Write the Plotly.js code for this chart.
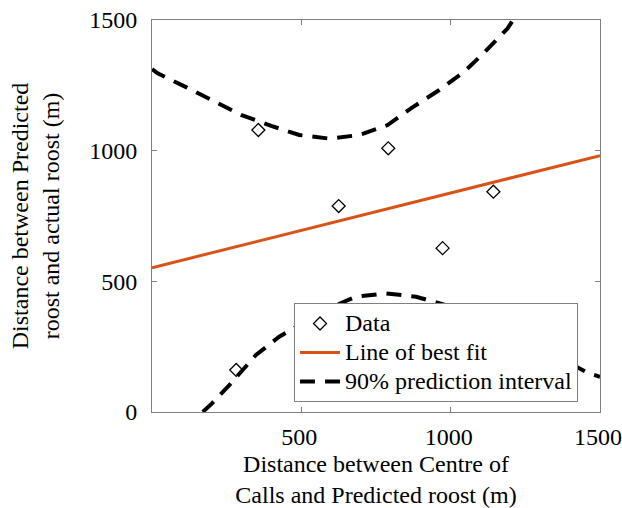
<!DOCTYPE html>
<html>
<head>
<meta charset="utf-8">
<script src="https://cdn.plot.ly/plotly-3.0.1.min.js"></script>
<style>html,body{margin:0;padding:0;background:#fff;}#chart{width:622px;height:508px;}</style>
</head>
<body>
<div id="chart"></div>
<script>
// Data points
const dataX = [282, 356, 625, 791, 973, 1143];
const dataY = [161, 1079, 788, 1009, 627, 843];

// Line of best fit endpoints
const fitX = [0, 1500];
const fitY = [552, 981];

// 90% prediction interval: upper curve
const upperX = [0, 19, 114, 206, 298, 399, 493, 594, 694, 789, 867, 962, 1045, 1112, 1190, 1209];
const upperY = [1312, 1296, 1243, 1191, 1137, 1095, 1060, 1046, 1060, 1098, 1162, 1232, 1302, 1375, 1467, 1500];

// 90% prediction interval: lower curve
const lowerX = [170, 201, 259, 348, 426, 577, 683, 761, 783, 884, 984, 1100, 1300, 1463, 1500];
const lowerY = [0, 33, 103, 218, 288, 390, 441, 454, 454, 441, 409, 365, 247, 148, 135];

// Gap between the two interval curves for one legend entry
const intervalX = upperX.concat([null]).concat(lowerX);
const intervalY = upperY.concat([null]).concat(lowerY);

const xTicks = [500, 1000, 1500];
const yTicks = [0, 500, 1000, 1500];

const seriesNames = ['Data', 'Line of best fit', '90% prediction interval'];

const font = {family: 'Liberation Serif, Times New Roman, serif', size: 24, color: '#000'};
const big = s => '<span style="font-size:24px">' + s + '</span>';

const traces = [
  {x: dataX, y: dataY, mode: 'markers', type: 'scatter', name: big(seriesNames[0]),
   marker: {symbol: 'diamond-open', size: 10, color: '#000', line: {width: 1.3, color: '#000'}}},
  {x: fitX, y: fitY, mode: 'lines', type: 'scatter', name: big(seriesNames[1]),
   line: {color: '#D95319', width: 3}},
  {x: intervalX, y: intervalY, mode: 'lines', type: 'scatter', name: big(seriesNames[2]),
   line: {color: '#000', width: 4, dash: '15px,10px'}, connectgaps: false}
];

const axisCommon = {
  showgrid: false, zeroline: false, showline: true, linecolor: '#808080', linewidth: 1,
  mirror: 'ticks', ticks: 'inside', ticklen: 5, tickcolor: '#808080', tickwidth: 1,
  tickfont: font, ticklabeloverflow: 'allow'
};

const layout = {
  width: 622, height: 508,
  margin: {l: 152, r: 22, t: 20, b: 96},
  paper_bgcolor: '#fff', plot_bgcolor: '#fff',
  font: font,
  showlegend: true,
  legend: {x: 0.317, y: 0.0255, xanchor: 'left', yanchor: 'bottom',
           bgcolor: '#fff', bordercolor: '#808080', borderwidth: 1,
           font: {family: font.family, size: 20, color: '#000'},
           tracegroupgap: 0, itemwidth: 40},
  xaxis: Object.assign({}, axisCommon, {
    range: [0, 1500], tickvals: xTicks, ticktext: xTicks.map(String),
    ticklabelstandoff: 3, ticklabelshift: -2,
    title: {text: 'Distance between Centre of<br>Calls and Predicted roost (m)', font: font, standoff: 18}
  }),
  yaxis: Object.assign({}, axisCommon, {
    range: [0, 1500], tickvals: yTicks, ticktext: yTicks.map(String),
    ticklabelstandoff: 9,
    title: {text: 'Distance between Predicted<br>roost and actual roost (m)', font: font, standoff: 22}
  })
};

Plotly.newPlot('chart', traces, layout, {displayModeBar: false, staticPlot: true});
</script>
</body>
</html>
